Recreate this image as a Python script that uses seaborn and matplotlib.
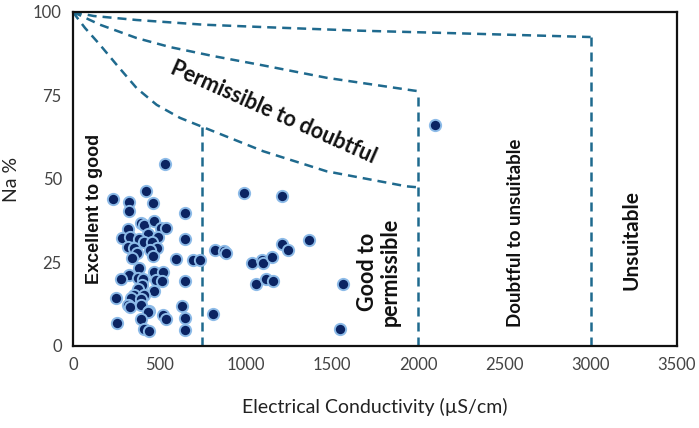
import numpy as np
import pandas as pd
import matplotlib
matplotlib.use("Agg")
import matplotlib.pyplot as plt
import seaborn as sns

# sample points (EC in uS/cm, Na in %)
ec = [533, 230, 423, 326, 465, 327, 652,
      394, 413, 471, 510, 539, 320, 433, 494, 286, 330, 382, 413, 456, 649,
      316, 485, 355, 446, 373, 340, 465, 595, 695,
      382, 471, 523, 324, 278, 375, 407, 479, 517, 649,
      398, 375, 471, 355, 413, 247, 336, 394, 320, 330, 394, 442, 433, 630,
      519, 539, 394, 649, 253, 413, 440, 649,
      736, 823, 875, 886, 1035, 1093, 1103, 1151, 1209, 1247, 1369,
      1060, 1116, 1157, 1563, 809, 1547, 992, 1212, 2097]
na = [54.5, 44.0, 46.3, 43.0, 42.7, 40.3, 39.7,
      36.7, 36.2, 37.4, 35.4, 35.2, 35.0, 33.4, 32.7, 32.2, 32.5, 32.0, 31.2, 31.0, 31.9,
      29.7, 29.4, 29.2, 28.7, 27.8, 26.3, 27.0, 25.9, 25.7,
      23.4, 22.2, 22.2, 21.3, 20.1, 20.4, 20.1, 19.7, 19.4, 19.4,
      18.4, 17.2, 16.4, 15.4, 15.2, 14.4, 14.4, 14.2, 12.4, 11.7, 12.4, 10.4, 10.2, 11.9,
      9.2, 8.2, 8.0, 8.4, 6.9, 5.2, 4.4, 4.7,
      25.7, 28.7, 28.5, 27.8, 24.8, 25.7, 24.8, 26.7, 30.5, 28.7, 31.7,
      18.5, 20.0, 19.5, 18.6, 9.6, 5.0, 45.7, 44.9, 66.2]

# Wilcox class boundaries
b1_ec = [0, 21, 70, 156, 253, 369, 485, 620, 750, 1103, 1470, 1933, 2000]
b1_na = [100, 98.5, 95.2, 90.2, 84.2, 77.2, 72.2, 68.3, 65.6, 58.3, 52.3, 47.8, 47.5]
b2_ec = [0, 156, 369, 562, 813, 1103, 1470, 1971, 2000]
b2_na = [100, 96.2, 92.2, 89.5, 86.8, 84.0, 80.3, 76.5, 76.3]
b3_ec = [0, 120, 369, 755, 1141, 1663, 2242, 3000]
b3_na = [100, 98.8, 97.6, 96.2, 95.4, 94.4, 93.6, 92.5]
v_ec = [750, 2000, 3000]
v_top = [65.6, 76.3, 92.5]

zones = ["Excellent to good", "Permissible to doubtful", "Good to\npermissible",
         "Doubtful to unsuitable", "Unsuitable"]
zone_ec = [122, 1159, 1773, 2567, 3239]
zone_na = [40.9, 69.8, 22.2, 33.8, 31.7]
zone_rot = [90, -24, 90, 90, 90]
zone_size = [13, 15.5, 15.5, 13.5, 15]

sns.set_style("white")
plt.rcParams['font.family'] = ['Lato', 'DejaVu Sans']

fig = plt.figure(figsize=(6.99, 4.28), dpi=100)
ax = fig.add_axes([0.1044, 0.1916, 0.864, 0.7804])

line_col = "#1f6a8e"
dash = (0, (3.6, 2.4))
for xs, ys in [(b1_ec, b1_na), (b2_ec, b2_na), (b3_ec, b3_na)]:
    ax.plot(xs, ys, color=line_col, lw=1.8, linestyle=dash, zorder=2)
for x, top in zip(v_ec, v_top):
    ax.plot([x, x], [0, top], color=line_col, lw=1.8, linestyle=dash, zorder=2)

pts = pd.DataFrame({"EC": ec, "Na": na})
sns.scatterplot(data=pts, x="EC", y="Na", ax=ax, s=66, color="#0b2463",
                edgecolor="#8dbbe8", linewidth=1.4, zorder=3)

for i, (t, x, y, r, fs) in enumerate(zip(zones, zone_ec, zone_na, zone_rot, zone_size)):
    if i == 0:
        kw = dict(family=["Liberation Sans", "DejaVu Sans"])
    else:
        kw = dict()
    ax.text(x, y, t, rotation=r, ha="center", va="center", fontsize=fs,
            fontweight="bold", color="#111111", linespacing=1.05,
            rotation_mode="anchor", **kw)

ax.set_xlim(0, 3500)
ax.set_ylim(0, 100)
ax.set_xticks(range(0, 3501, 500))
ax.set_yticks([0, 25, 50, 75, 100])
ax.tick_params(length=0, labelsize=12, labelcolor="#444444", pad=8)
ax.set_xlabel("Electrical Conductivity (µS/cm)", fontsize=14, color="#222222", labelpad=18)
ax.set_ylabel("Na %", fontsize=14, color="#222222", labelpad=9)
for s in ax.spines.values():
    s.set_color("#111111")
    s.set_linewidth(1.6)

fig.savefig("out.png", dpi=100)
